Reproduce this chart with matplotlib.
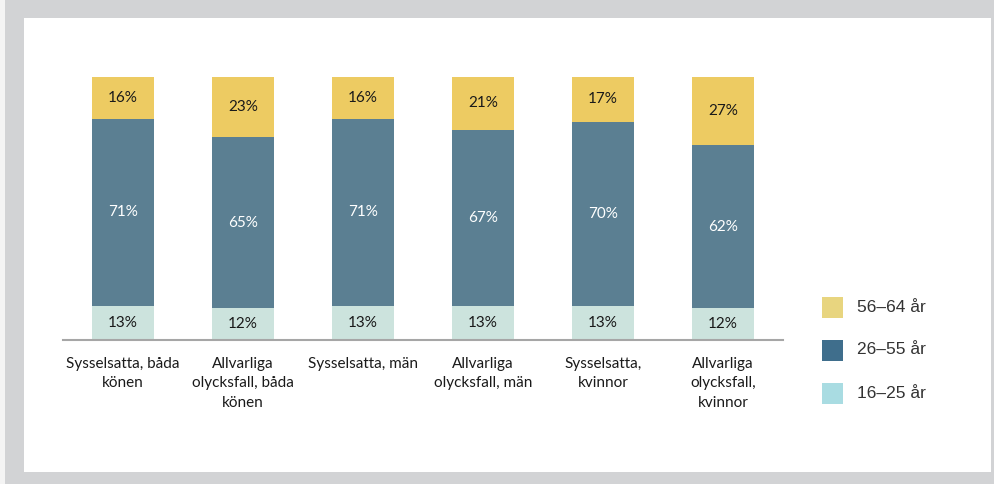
import matplotlib
matplotlib.use("Agg")
import matplotlib.pyplot as plt
from matplotlib.patches import Rectangle
import numpy as np

categories = ["Sysselsatta, båda\nkönen", "Allvarliga\nolycksfall, båda\nkönen",
              "Sysselsatta, män", "Allvarliga\nolycksfall, män",
              "Sysselsatta,\nkvinnor", "Allvarliga\nolycksfall,\nkvinnor"]
age_16_25 = [13, 12, 13, 13, 13, 12]
age_26_55 = [71, 65, 71, 67, 70, 62]
age_56_64 = [16, 23, 16, 21, 17, 27]
series_labels = ["56–64 år", "26–55 år", "16–25 år"]

W, H = 995, 484
fig = plt.figure(figsize=(W/100, H/100), dpi=100)
fig.patch.set_facecolor("#D2D3D5")
fig.patches.append(Rectangle((0, 0), 5/W, 1, transform=fig.transFigure,
                             facecolor="#F4F4F4", edgecolor="none", zorder=-5))
fig.patches.append(Rectangle((24/W, (H-472)/H), (991-24)/W, (472-18)/H,
                             transform=fig.transFigure, facecolor="white",
                             edgecolor="none", zorder=-5))

ax = fig.add_axes([63/W, (H-340)/H, 720/W, 263/H])
ax.set_zorder(2)
ax.set_facecolor("none")
x = np.arange(len(categories))
bw = 0.51
c_bot, c_mid, c_top = "#CCE3DD", "#5B7F92", "#EDCB62"
bot = np.array(age_16_25)
mid = np.array(age_26_55)
top = np.array(age_56_64)
ax.bar(x, bot, bw, color=c_bot, zorder=2)
ax.bar(x, mid, bw, bottom=bot, color=c_mid, zorder=2)
ax.bar(x, top, bw, bottom=bot+mid, color=c_top, zorder=2)

lab_font = "Lato"
for i in range(len(x)):
    ax.text(x[i], bot[i]/2, f"{bot[i]}%", ha="center", va="center",
            fontsize=11, color="#1a1a1a", family=lab_font, zorder=3)
    ax.text(x[i], bot[i]+mid[i]/2, f"{mid[i]}%", ha="center", va="center",
            fontsize=11, color="white", family=lab_font, zorder=3)
    ax.text(x[i], bot[i]+mid[i]+min(top[i], 100-bot[i]-mid[i])/2, f"{top[i]}%",
            ha="center", va="center", fontsize=11, color="#1a1a1a",
            family=lab_font, zorder=3)

ax.set_xlim(-0.5, len(x)-0.5)
ax.set_ylim(0, 100)
for s in ["top", "right", "left"]:
    ax.spines[s].set_visible(False)
ax.spines["bottom"].set_color("#A6A6A6")
ax.spines["bottom"].set_linewidth(1.5)
ax.set_yticks([])
ax.set_xticks(x)
ax.set_xticklabels(categories, fontsize=11, family=lab_font, color="#1a1a1a",
                   linespacing=1.5, va="top")
ax.tick_params(axis="x", length=0, pad=12)

# legend
leg_cols = ["#E8D57F", "#3F6E8C", "#A9DCE2"]
leg_y = [307, 350, 393]
for lab, col, yy in zip(series_labels, leg_cols, leg_y):
    fig.patches.append(Rectangle((822/W, (H-yy-10.5)/H), 21/W, 21/H,
                                 transform=fig.transFigure, facecolor=col,
                                 edgecolor="none", zorder=3))
    fig.text(857/W, (H-yy)/H, lab, fontsize=12.5, family="Liberation Sans",
             color="#333333", va="center", ha="left")

fig.savefig("out.png", dpi=100)
